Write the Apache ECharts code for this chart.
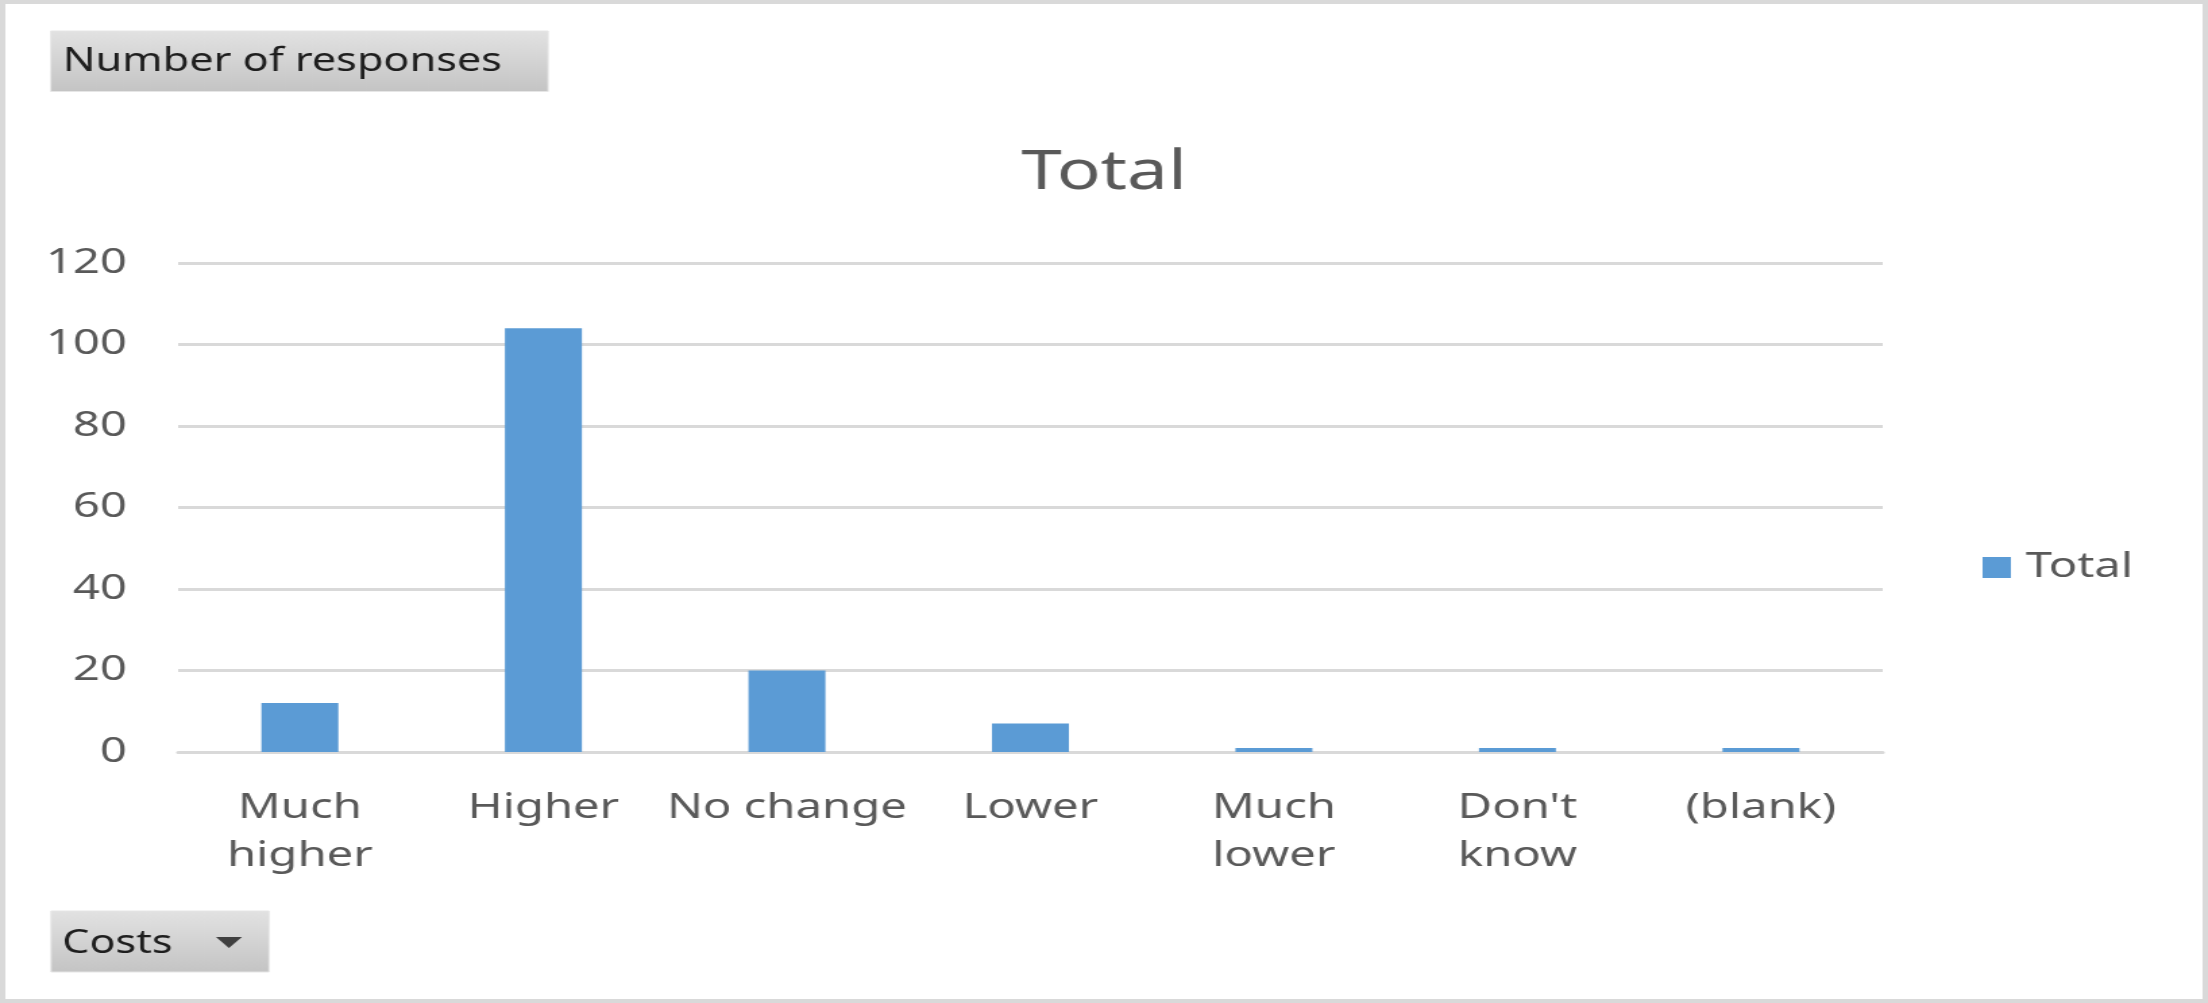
<!DOCTYPE html>
<html>
<head>
<meta charset="utf-8">
<script src="https://cdn.jsdelivr.net/npm/echarts@6/dist/echarts.min.js"></script>
<style>
  html, body { margin: 0; padding: 0; overflow: hidden; background: #ffffff; }
  #wrap { width: 2208px; height: 1003px; overflow: hidden; position: relative; }
  #chart { width: 1636px; height: 1003px; transform: scaleX(1.3496); transform-origin: 0 0; }
</style>
</head>
<body>
<div id="wrap"><div id="chart"></div></div>
<script>
// ---- data ----
const categories = ["Much higher", "Higher", "No change", "Lower", "Much lower", "Don't know", "(blank)"];
const xTickLabels = ["Much\nhigher", "Higher", "No change", "Lower", "Much\nlower", "Don't\nknow", "(blank)"];
const totalValues = [12, 104, 20, 7, 1, 1, 1];
const yTicks = [0, 20, 40, 60, 80, 100, 120];
const seriesName = "Total";
const chartTitle = "Total";
const valueFieldLabel = "Number of responses";
const rowFieldLabel = "Costs";

const FONT = "'Noto Sans', 'Open Sans', sans-serif";
const TXT = "#595959";
const chart = echarts.init(document.getElementById('chart'), null, { renderer: 'canvas' });

const btnFill = new echarts.graphic.LinearGradient(0, 0, 0, 1, [
  { offset: 0, color: '#e2e2e2' },
  { offset: 1, color: '#c4c4c4' }
]);

chart.setOption({
  animation: false,
  backgroundColor: '#ffffff',
  title: {
    text: chartTitle,
    left: 'center',
    top: 147,
    padding: 0,
    textStyle: { fontFamily: FONT, fontSize: 54, fontWeight: 'normal', color: TXT }
  },
  legend: {
    data: [seriesName],
    left: 1469,
    top: 550,
    padding: 0,
    icon: 'rect',
    itemWidth: 21,
    itemHeight: 21,
    textStyle: { fontFamily: FONT, fontSize: 35, color: TXT, padding: [0, 0, 0, 6] }
  },
  grid: { left: 132, right: 241, top: 263, bottom: 251, containLabel: false },
  xAxis: {
    type: 'category',
    data: categories,
    axisLine: { show: true, lineStyle: { color: '#d9d9d9', width: 3 } },
    axisTick: { show: false },
    axisLabel: {
      interval: 0,
      margin: 32,
      fontFamily: FONT,
      fontSize: 35,
      lineHeight: 48,
      color: TXT,
      formatter: function (v, i) { return xTickLabels[i]; }
    }
  },
  yAxis: {
    type: 'value',
    min: yTicks[0],
    max: yTicks[yTicks.length - 1],
    interval: yTicks[1] - yTicks[0],
    axisLine: { show: false },
    axisTick: { show: false },
    splitLine: { lineStyle: { color: '#d9d9d9', width: 3 } },
    axisLabel: { margin: 38, fontFamily: FONT, fontSize: 35, color: TXT }
  },
  series: [{
    name: seriesName,
    type: 'bar',
    data: totalValues,
    barWidth: '31.6%',
    itemStyle: { color: '#5b9bd5' }
  }],
  graphic: [
    {
      type: 'rect', silent: true,
      shape: { x: 2, y: 2, width: 1632, height: 999 },
      style: { fill: 'none', stroke: '#d9d9d9', lineWidth: 4 }
    },
    {
      type: 'rect', silent: true,
      shape: { x: 37.6, y: 31, width: 368.5, height: 60.5 },
      style: { fill: btnFill, stroke: '#e6e6e6', lineWidth: 1 }
    },
    {
      type: 'text', silent: true,
      x: 46.5, y: 62,
      style: { text: valueFieldLabel, fontFamily: FONT, fontSize: 32, fill: '#1e1e1e', verticalAlign: 'middle', align: 'left' }
    },
    {
      type: 'rect', silent: true,
      shape: { x: 37.8, y: 911, width: 161.5, height: 61 },
      style: { fill: btnFill, stroke: '#e6e6e6', lineWidth: 1 }
    },
    {
      type: 'text', silent: true,
      x: 46, y: 944,
      style: { text: rowFieldLabel, fontFamily: FONT, fontSize: 32, fill: '#1e1e1e', verticalAlign: 'middle', align: 'left' }
    },
    {
      type: 'polygon', silent: true,
      shape: { points: [[160, 937], [179.3, 937], [169.6, 948]] },
      style: { fill: '#404040' }
    }
  ]
});
</script>
</body>
</html>
